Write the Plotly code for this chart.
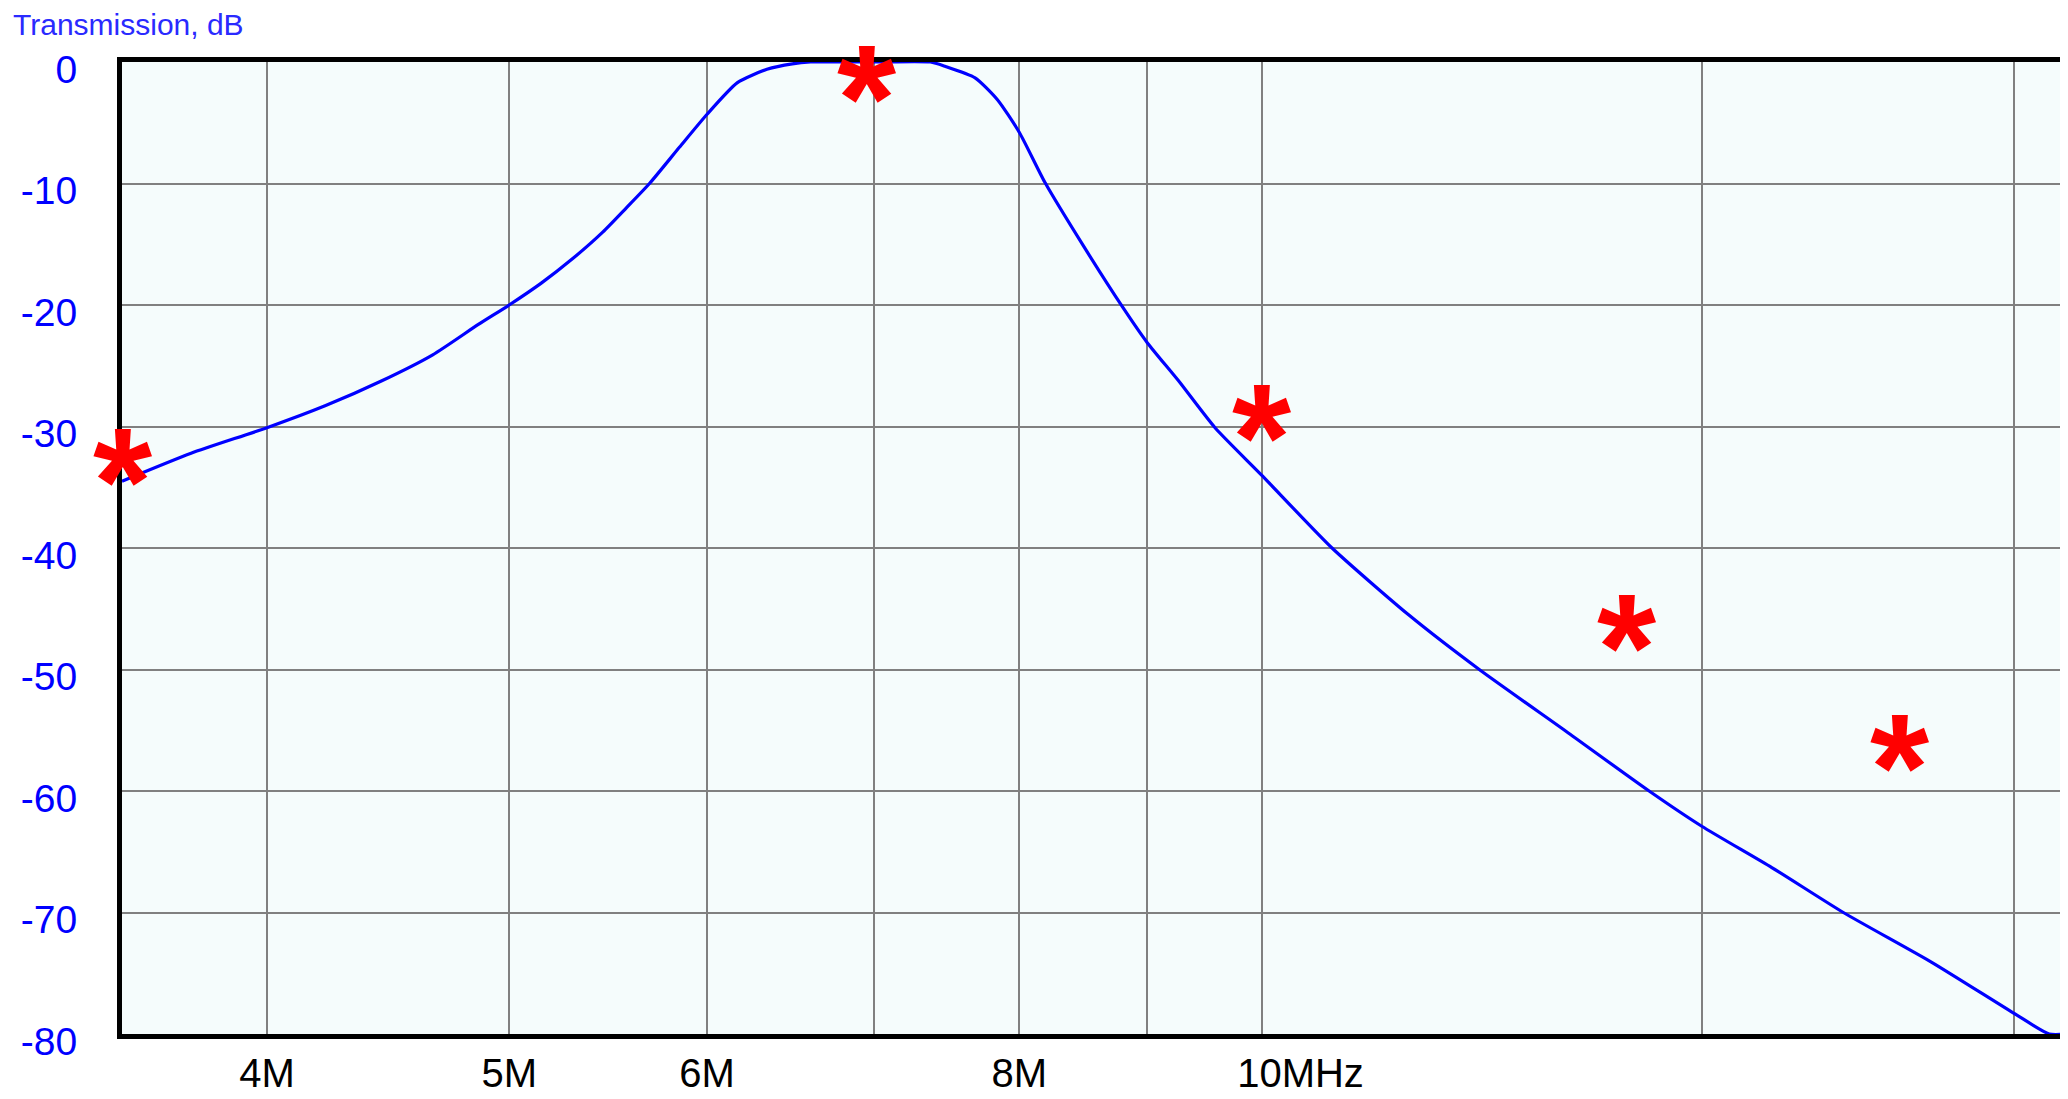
import math
import plotly.graph_objects as go

# ---- data ----
freq_mhz = [3.5, 3.73, 4.0, 4.22, 4.44, 4.66, 4.86, 5.0, 5.15, 5.30, 5.45, 5.57, 5.69,
            5.85, 6.0, 6.17, 6.34, 6.49, 6.6, 7.0, 7.37, 7.47, 7.68, 7.84, 8.0, 8.19,
            8.49, 8.80, 9.0, 9.26, 9.58, 10.0, 10.67, 11.45, 12.22, 13.24, 14.29, 15.0,
            16.0, 17.09, 18.54, 20.0, 20.66, 21.0]
trans_db = [-34.5, -32.2, -30.1, -28.3, -26.3, -24.1, -21.6, -20.0, -18.2, -16.2, -14.0,
            -12.0, -10.0, -7.0, -4.3, -1.7, -0.6, -0.15, 0.0, 0.0, 0.0, -0.35, -1.3, -3.1,
            -5.8, -9.9, -15.2, -20.2, -23.1, -26.2, -30.1, -34.0, -40.0, -45.5, -50.0,
            -55.1, -60.0, -62.9, -66.3, -70.0, -74.1, -78.3, -80.0, -80.0]

spec_mhz = [3.5, 6.95, 10.0, 14.0, 18.0]
spec_db = [-32.4, -0.9, -28.8, -46.1, -56.0]

grid_mhz = [4, 5, 6, 7, 8, 9, 10, 15, 20]
grid_labels = ["4M", "5M", "6M", "", "8M", "", "\u00a0" * 7 + "10MHz", "", ""]
y_ticks = [0, -10, -20, -30, -40, -50, -60, -70, -80]
y_labels = ["0", "-10", "-20", "-30", "-40", "-50", "-60", "-70", "-80"]

ML, MR, MT, MB = 114, 4, 54, 73
PW, PH = 2068 - ML - MR, 1099 - MT - MB

fig = go.Figure()

fig.add_trace(go.Scatter(
    x=[f * 1e6 for f in freq_mhz], y=trans_db, mode="lines",
    line=dict(color="#0000FF", width=3.2, shape="spline", smoothing=0.6),
    cliponaxis=False, hoverinfo="skip",
))
fig.add_trace(go.Scatter(
    x=[freq_mhz[0] * 1e6], y=[trans_db[0]], mode="markers",
    marker=dict(color="#0000FF", size=16), cliponaxis=False, hoverinfo="skip",
))

for f, d in zip(spec_mhz, spec_db):
    fig.add_annotation(
        x=math.log10(f * 1e6), y=d, xref="x", yref="y", text="<b>*</b>", showarrow=False,
        font=dict(family="Arial", size=152, color="#FF0000"),
        xanchor="center", yanchor="middle", yshift=-25,
    )

fig.add_annotation(
    x=(3 - ML) / PW, y=1 + (MT + 2) / PH, xref="paper", yref="paper",
    text="Transmission, dB", showarrow=False, xanchor="left", yanchor="top",
    font=dict(family="Arial", size=30, color="#2A2AFF"),
)

fig.update_layout(
    width=2068, height=1099,
    margin=dict(l=ML, r=MR, t=MT, b=MB),
    paper_bgcolor="#FFFFFF", plot_bgcolor="#F5FCFC",
    showlegend=False,
    xaxis=dict(
        type="log", range=[math.log10(3.5e6), math.log10(21e6)],
        tickvals=[g * 1e6 for g in grid_mhz], ticktext=grid_labels,
        showgrid=True, gridcolor="#808080", gridwidth=2,
        showline=True, linecolor="#000000", linewidth=5, mirror=True,
        ticks="", ticklabelstandoff=0,
        tickfont=dict(family="Arial", size=40, color="#000000"),
        zeroline=False,
    ),
    yaxis=dict(
        range=[-80, 0], tickvals=y_ticks, ticktext=y_labels,
        showgrid=True, gridcolor="#808080", gridwidth=2,
        showline=True, linecolor="#000000", linewidth=5, mirror=True,
        ticks="", ticklabelstandoff=32, ticklabelshift=7,
        tickfont=dict(family="Arial", size=39, color="#0000FF"),
        zeroline=False,
    ),
)

fig.write_html("out.html")
